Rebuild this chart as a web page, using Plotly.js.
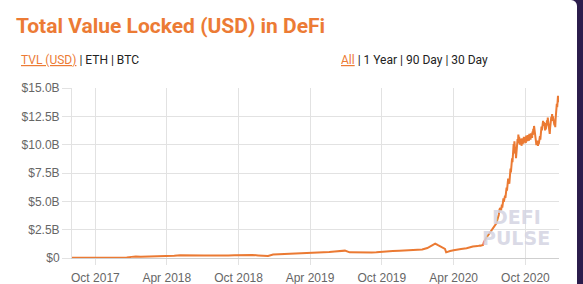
<!DOCTYPE html>
<html>
<head>
<meta charset="utf-8">
<script src="https://cdn.plot.ly/plotly-3.0.1.min.js"></script>
<style>
  html, body { margin: 0; padding: 0; width: 583px; height: 284px; overflow: hidden; background: #2b1c4c; }
  #card { position: absolute; left: 0; top: 0; width: 577px; height: 284px; background: #ffffff; border-top-right-radius: 6px; }
  #chart { position: absolute; left: 0; top: 0; width: 583px; height: 284px; }
</style>
</head>
<body>
<div id="card"></div>
<div id="chart"></div>
<script>
// ---- Data (TVL in billions of USD) ----
// Irregularly sampled history up to end of July 2020
const dates = [
  '2017-08-02','2017-08-20','2017-09-05','2017-09-20','2017-10-05','2017-10-20','2017-11-05','2017-11-20',
  '2017-12-05','2017-12-20','2018-01-01','2018-01-12','2018-01-25','2018-02-08','2018-02-22','2018-03-08',
  '2018-03-22','2018-04-05','2018-04-20','2018-05-05','2018-05-20','2018-06-05','2018-06-20','2018-07-05',
  '2018-07-20','2018-08-05','2018-08-20','2018-09-05','2018-09-20','2018-10-05','2018-10-20','2018-11-05',
  '2018-11-20','2018-12-02','2018-12-15','2018-12-28','2019-01-10','2019-01-25','2019-02-10','2019-02-25',
  '2019-03-10','2019-03-25','2019-04-08','2019-04-22','2019-05-06','2019-05-20','2019-06-03','2019-06-15',
  '2019-06-29','2019-07-11','2019-07-25','2019-08-08','2019-08-22','2019-09-05','2019-09-17','2019-09-25',
  '2019-10-10','2019-10-29','2019-11-15','2019-12-01','2019-12-15','2020-01-01','2020-01-12','2020-01-25',
  '2020-02-03','2020-02-10','2020-02-14','2020-02-20','2020-02-26','2020-03-05','2020-03-10','2020-03-13',
  '2020-03-16','2020-03-23','2020-04-01','2020-04-09','2020-04-20','2020-05-04','2020-05-12','2020-05-20',
  '2020-06-01','2020-06-03','2020-06-05','2020-06-07','2020-06-09','2020-06-11','2020-06-13','2020-06-15',
  '2020-06-17','2020-06-19','2020-06-21','2020-06-23','2020-06-25','2020-06-27','2020-06-29','2020-07-01',
  '2020-07-03','2020-07-05','2020-07-07','2020-07-09','2020-07-11','2020-07-13','2020-07-15','2020-07-17',
  '2020-07-19','2020-07-21','2020-07-23','2020-07-25','2020-07-27','2020-07-29','2020-07-31'
];
const tvlBillions = [
  0.02,0.02,0.03,0.02,0.03,0.03,0.03,0.04,
  0.04,0.05,0.10,0.14,0.12,0.13,0.15,0.13,
  0.15,0.14,0.20,0.24,0.22,0.23,0.20,0.22,
  0.21,0.20,0.22,0.23,0.24,0.27,0.29,0.27,
  0.23,0.20,0.18,0.31,0.33,0.35,0.34,0.36,
  0.38,0.40,0.42,0.44,0.46,0.52,0.57,0.58,
  0.65,0.50,0.48,0.47,0.49,0.48,0.50,0.53,
  0.56,0.62,0.64,0.66,0.68,0.71,0.75,0.88,
  1.05,1.20,1.27,1.15,1.05,0.92,0.80,0.50,
  0.55,0.62,0.68,0.74,0.80,0.86,0.95,1.02,
  1.05,1.08,1.06,1.10,1.08,1.12,1.10,1.15,
  1.40,1.55,1.70,1.82,1.90,1.95,2.05,2.15,
  2.30,2.40,2.50,2.55,2.70,2.75,2.85,2.95,
  3.05,3.30,3.55,3.80,4.30,4.40,4.20
];
// Daily values from 2020-08-01 to 2020-12-26
const dailyStart = '2020-08-01';
const dailyTvlBillions = [
  // Aug
  4.35,4.70,4.45,5.00,4.80,5.25,4.95,5.20,5.05,5.50,5.30,5.90,5.60,6.20,5.95,6.45,
  6.20,7.00,6.60,6.85,6.55,7.40,7.10,7.90,7.55,8.30,8.00,8.80,8.45,9.55,9.20,
  // Sep
  10.05,9.60,10.30,9.80,9.20,9.55,8.80,9.20,9.70,9.40,10.50,10.10,10.90,10.45,10.70,
  10.20,10.00,10.45,10.15,10.55,9.90,10.30,10.55,10.05,10.35,10.10,10.70,10.35,10.65,10.25,
  // Oct
  10.45,10.15,10.80,10.40,10.60,10.30,10.85,10.45,10.65,10.35,10.95,10.55,10.75,10.45,11.00,
  10.70,10.90,10.60,11.15,10.85,11.40,11.10,11.65,11.30,11.20,10.70,10.50,10.15,9.95,10.30,10.05,
  // Nov
  10.35,9.90,10.30,10.05,10.40,10.15,10.75,10.45,11.20,10.90,11.60,11.25,11.95,11.60,12.10,
  11.65,12.00,11.70,11.90,11.25,11.55,11.35,11.85,11.55,12.15,11.70,12.40,12.00,11.75,11.35,
  // Dec
  11.10,10.95,11.50,11.80,12.10,12.45,12.10,12.70,12.25,12.50,12.15,12.45,12.00,11.70,11.95,
  11.55,12.30,12.90,13.20,13.60,13.30,14.00,14.30,13.90,14.10,13.75
];
const yTickVals = [0, 2.5, 5, 7.5, 10, 12.5, 15];
const yTickText = ['$0', '$2.5B', '$5.0B', '$7.5B', '$10.0B', '$12.5B', '$15.0B'];
const titleText = 'Total Value Locked (USD) in DeFi';
const leftNav = '<span style="color:#ec7b35"><u>TVL (USD)</u></span> | ETH | BTC';
const rightNav = '<span style="color:#ec7b35"><u>All</u></span> | 1 Year | 90 Day | 30 Day';
const watermark = ['DEFI', 'PULSE'];

// Build daily date labels for the daily block
const dailyDates = dailyTvlBillions.map((_, i) => {
  const d = new Date(dailyStart + 'T00:00:00Z');
  d.setUTCDate(d.getUTCDate() + i);
  return d.toISOString().slice(0, 10);
});
const allDates = dates.concat(dailyDates);
const allValues = tvlBillions.concat(dailyTvlBillions);

// ---- Layout helpers (pixel -> paper) ----
const M = { l: 72, r: 24, t: 88, b: 26 };
const W = 583, H = 284;
const pw = W - M.l - M.r, ph = H - M.t - M.b;
const px = x => (x - M.l) / pw;
const py = y => (H - M.b - y) / ph;

const orange = '#ec7b35';

const trace = {
  x: allDates,
  y: allValues,
  type: 'scatter',
  mode: 'lines',
  line: { color: '#eb7a33', width: 2 },
  hoverinfo: 'skip'
};

const layout = {
  width: W, height: H,
  margin: M,
  paper_bgcolor: 'rgba(0,0,0,0)',
  plot_bgcolor: 'rgba(0,0,0,0)',
  showlegend: false,
  title: {
    text: '<b>' + titleText + '</b>',
    font: { family: 'Roboto', size: 21, color: orange },
    xref: 'container', x: 16 / W, xanchor: 'left',
    yref: 'container', y: 1 - 26 / H, yanchor: 'middle'
  },
  xaxis: {
    type: 'date',
    range: ['2017-08-02 10:00', '2020-12-25 14:00'],
    tick0: '2017-10-01', dtick: 'M6', tickformat: '%b %Y',
    showgrid: true, gridcolor: '#e2e2e2', gridwidth: 1,
    ticks: 'outside', ticklen: 6, tickcolor: '#e2e2e2',
    ticklabelstandoff: 3,
    showline: true, linecolor: '#cfcfcf', linewidth: 1,
    zeroline: false,
    tickfont: { family: 'Liberation Sans, Arial', size: 12, color: '#666' }
  },
  yaxis: {
    range: [0, 15],
    tickvals: yTickVals, ticktext: yTickText,
    showgrid: true, gridcolor: '#e2e2e2', gridwidth: 1,
    ticks: 'outside', ticklen: 9, tickcolor: '#e2e2e2',
    showline: true, linecolor: '#e2e2e2', linewidth: 1,
    zeroline: false,
    tickfont: { family: 'Liberation Sans, Arial', size: 12, color: '#666' }
  },
  annotations: [
    { text: leftNav, xref: 'paper', yref: 'paper', x: px(19), y: py(60), xanchor: 'left', yanchor: 'middle',
      showarrow: false, font: { family: 'Roboto', size: 12, color: '#222' } },
    { text: rightNav, xref: 'paper', yref: 'paper', x: px(490), y: py(60), xanchor: 'right', yanchor: 'middle',
      showarrow: false, font: { family: 'Roboto', size: 12, color: '#222' } },
    { text: '<b>' + watermark[0] + '</b>', xref: 'paper', yref: 'paper', x: px(516), y: py(217), xanchor: 'center', yanchor: 'middle',
      showarrow: false, font: { family: 'DejaVu Sans', size: 19, color: 'rgba(212,212,226,0.85)' } },
    { text: '<b>' + watermark[1] + '</b>', xref: 'paper', yref: 'paper', x: px(516), y: py(238), xanchor: 'center', yanchor: 'middle',
      showarrow: false, font: { family: 'DejaVu Sans', size: 19, color: 'rgba(212,212,226,0.85)' } }
  ]
};

Plotly.newPlot('chart', [trace], layout, { staticPlot: true, displayModeBar: false });
</script>
</body>
</html>
